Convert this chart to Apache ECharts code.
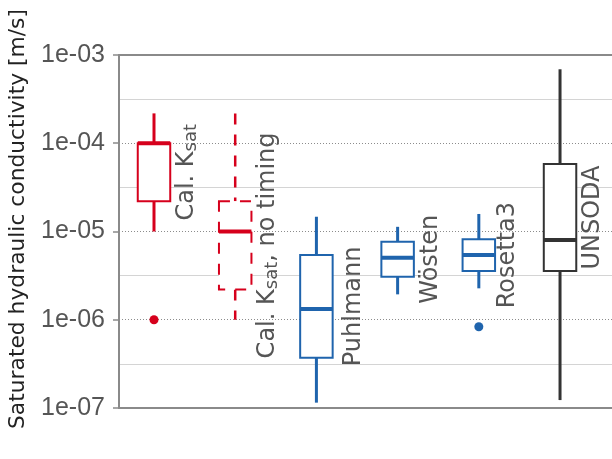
<!DOCTYPE html>
<html>
<head>
<meta charset="utf-8">
<script src="https://cdn.jsdelivr.net/npm/echarts@6/dist/echarts.min.js"></script>
<style>
  html, body { margin: 0; padding: 0; background: #ffffff; }
  #chart { width: 612px; height: 459px; }
</style>
</head>
<body>
<div id="chart"></div>
<script>
// Saturated hydraulic conductivity: calibrated values vs. pedotransfer functions.
const categories = ['Cal. Ksat', 'Cal. Ksat, no timing', 'Puhlmann', 'Wösten', 'Rosetta3', 'UNSODA'];
const labelTexts = ['Cal. K{sub|sat}', 'Cal. K{sub|sat}, no timing', 'Puhlmann', 'Wösten', 'Rosetta3', 'UNSODA'];

// Box statistics per group [m/s]
const whiskerLow  = [1.0e-5, 1.0e-6, 1.15e-7, 1.94e-6, 2.27e-6, 1.23e-7];
const quartile1   = [2.2e-5, 2.2e-6, 3.7e-7,  3.07e-6, 3.57e-6, 3.56e-6];
const medians     = [1.0e-4, 1.0e-5, 1.32e-6, 5.05e-6, 5.42e-6, 8.0e-6];
const quartile3   = [1.0e-4, 2.2e-5, 5.42e-6, 7.66e-6, 8.16e-6, 5.82e-5];
const whiskerHigh = [2.18e-4, 2.18e-4, 1.47e-5, 1.13e-5, 1.58e-5, 6.89e-4];

// Outliers: group index and value
const outlierGroup = [0, 4];
const outlierValue = [1.0e-6, 8.34e-7];

// Drawing styles per group
const groupColors = ['#d6001c', '#d6001c', '#1f64ad', '#1f64ad', '#1f64ad', '#333333'];
const groupDashed = [false, true, false, false, false, false];
const labelNudge  = [0, 0, 4, 0, -4.5, 0];

const BOX_HALF = 0.2;
const LABEL_OFFSET = 33;
const AXIS_GREY = '#8a8a8a';

function expLabel(v) {
  const e = Math.round(Math.log10(v));
  return '1e' + (e < 0 ? '-' : '+') + String(Math.abs(e)).padStart(2, '0');
}

const boxData = categories.map((c, i) => [i + 1, whiskerLow[i], quartile1[i], medians[i], quartile3[i], whiskerHigh[i]]);
const outlierData = outlierGroup.map((g, k) => [g + 1, outlierValue[k]]);

function renderBox(params, api) {
  const i = params.dataIndex;
  const x = api.value(0);
  const lo = api.coord([x, api.value(1)]);
  const b1 = api.coord([x, api.value(2)]);
  const md = api.coord([x, api.value(3)]);
  const b3 = api.coord([x, api.value(4)]);
  const hi = api.coord([x, api.value(5)]);
  const xl = api.coord([x - BOX_HALF, api.value(3)])[0];
  const xr = api.coord([x + BOX_HALF, api.value(3)])[0];
  const cx = md[0];
  const color = groupColors[i];
  const dash = groupDashed[i] ? [11, 10] : null;
  const wWidth = groupDashed[i] ? 2.5 : 3;
  return {
    type: 'group',
    children: [
      { type: 'line', shape: { x1: cx, y1: hi[1], x2: cx, y2: b3[1] },
        style: { stroke: color, lineWidth: wWidth, lineDash: dash } },
      { type: 'line', shape: { x1: cx, y1: b1[1], x2: cx, y2: lo[1] },
        style: { stroke: color, lineWidth: wWidth, lineDash: dash } },
      { type: 'rect', shape: { x: xl, y: b3[1], width: xr - xl, height: b1[1] - b3[1] },
        style: { fill: '#ffffff', stroke: color, lineWidth: 2, lineDash: dash } },
      { type: 'line', shape: { x1: xl, y1: md[1], x2: xr, y2: md[1] },
        style: { stroke: color, lineWidth: 4 } },
      { type: 'text', x: cx + LABEL_OFFSET + labelNudge[i], y: (b1[1] + b3[1]) / 2,
        rotation: Math.PI / 2,
        style: {
          text: labelTexts[i],
          fill: '#555555',
          fontFamily: 'DejaVu Sans',
          fontSize: 24,
          lineHeight: 26,
          align: 'center', verticalAlign: 'middle',
          textAlign: 'center', textVerticalAlign: 'middle',
          rich: {
            sub: { fontFamily: 'DejaVu Sans', fontSize: 18, lineHeight: 18, verticalAlign: 'bottom', fill: '#555555' }
          }
        } }
    ]
  };
}

const chart = echarts.init(document.getElementById('chart'), null, { renderer: 'canvas' });
chart.setOption({
  animation: false,
  backgroundColor: '#ffffff',
  grid: { left: 119, right: 0, top: 55, bottom: 51, containLabel: false },
  xAxis: [
    { type: 'value', min: 0.569, max: 6.64, position: 'bottom',
      axisLine: { show: true, onZero: false, lineStyle: { color: AXIS_GREY, width: 2 } },
      axisTick: { show: false }, axisLabel: { show: false }, splitLine: { show: false } },
    { type: 'value', min: 0.569, max: 6.64, position: 'top',
      axisLine: { show: true, onZero: false, lineStyle: { color: AXIS_GREY, width: 2 } },
      axisTick: { show: false }, axisLabel: { show: false }, splitLine: { show: false } }
  ],
  yAxis: [
    { type: 'log', logBase: 10, min: 1e-7, max: 1e-3, interval: 1, position: 'left',
      axisLine: { show: true, onZero: false, lineStyle: { color: AXIS_GREY, width: 2 } },
      axisTick: { show: true, length: 6, lineStyle: { color: AXIS_GREY, width: 1.5 } },
      axisLabel: { margin: 14, color: '#555555', fontFamily: 'Liberation Sans', fontSize: 25, formatter: expLabel },
      splitLine: { show: true, lineStyle: { color: '#8c8c8c', type: [1, 2], width: 1 } } },
    { type: 'value', min: -7, max: -3, interval: 0.5, position: 'right',
      axisLine: { show: false }, axisTick: { show: false }, axisLabel: { show: false },
      splitLine: { show: true, lineStyle: { color: ['transparent', '#d4d4d4'], width: 1 } } }
  ],
  graphic: [
    { type: 'text', x: 18, y: 219, rotation: Math.PI / 2,
      style: { text: 'Saturated hydraulic conductivity [m/s]', fill: '#222222',
               fontFamily: 'DejaVu Sans', fontSize: 21.8,
               align: 'center', verticalAlign: 'middle', textAlign: 'center', textVerticalAlign: 'middle' } }
  ],
  series: [
    { type: 'custom', name: 'boxes', xAxisIndex: 0, yAxisIndex: 0, clip: false,
      data: boxData, encode: { x: 0, y: [1, 2, 3, 4, 5] }, renderItem: renderBox, z: 3 },
    { type: 'scatter', name: 'outliers', xAxisIndex: 0, yAxisIndex: 0,
      data: outlierData, symbol: 'circle', symbolSize: 9, z: 4,
      itemStyle: { opacity: 1, color: (p) => groupColors[outlierGroup[p.dataIndex]] } }
  ]
});
</script>
</body>
</html>
